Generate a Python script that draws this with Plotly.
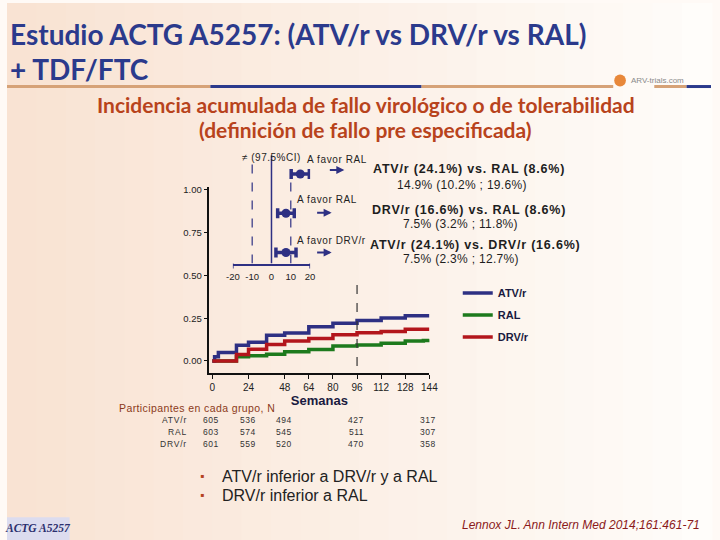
import plotly.graph_objects as go

W, H = 720, 540
def px(x):
    return x / W
def py(y):
    return 1 - y / H

# ---------------- data ----------------
week_ticks = [0, 24, 48, 64, 80, 96, 112, 128, 144]

weeks_atv = [0, 1.5, 4, 16, 24, 36, 48, 64, 80, 96, 112, 128, 144]
inc_atv = [0, 0.025, 0.05, 0.092, 0.11, 0.15, 0.163, 0.20, 0.22, 0.237, 0.252, 0.265, 0.265]

weeks_drv = [0, 16, 24, 36, 48, 64, 80, 96, 112, 128, 144]
inc_drv = [0, 0.038, 0.069, 0.096, 0.117, 0.131, 0.154, 0.165, 0.173, 0.186, 0.186]

weeks_ral = [0, 16, 24, 36, 48, 64, 80, 96, 112, 128, 140, 144]
inc_ral = [0, 0.025, 0.031, 0.040, 0.054, 0.067, 0.087, 0.094, 0.104, 0.117, 0.120, 0.127]

y_ticks = [0, 0.25, 0.50, 0.75, 1.00]
y_ticktext = ["0.00", "0.25", "0.50", "0.75", "1.00"]

# forest plot (difference, 97.5% CI)
comparisons = ["ATV/r vs RAL", "DRV/r vs RAL", "ATV/r vs DRV/r"]
comp_rows = [3, 2, 1]
diff = [14.9, 7.5, 7.5]
ci_low = [10.2, 3.2, 2.3]
ci_high = [19.6, 11.8, 12.7]
forest_ticks = [-20, -10, 0, 10, 20]
forest_ticktext = ["-20", "-10", "0", "10", "20"]
favor_text = ["A favor RAL", "A favor RAL", "A favor DRV/r"]
comp_title = ["ATV/r (24.1%) vs. RAL (8.6%)", "DRV/r (16.6%) vs. RAL (8.6%)",
              "ATV/r (24.1%) vs. DRV/r (16.6%)"]
comp_value = ["14.9% (10.2% ; 19.6%)", "7.5% (3.2% ; 11.8%)", "7.5% (2.3% ; 12.7%)"]

# participants at risk
risk_weeks = [0, 24, 48, 96, 144]
risk_groups = ["ATV/r", "RAL", "DRV/r"]
risk_atv = [605, 536, 494, 427, 317]
risk_ral = [603, 574, 545, 511, 307]
risk_drv = [601, 559, 520, 470, 358]

NAVY = "#2e3083"
RED = "#b3161c"
GREEN = "#1d7a1d"
TXT = "#1e1e1e"
FONT = "Liberation Sans"

def spaced(s, ls):
    return f'<span style="letter-spacing:{ls}px">{s}</span>'

fig = go.Figure()

# ---------------- KM curves ----------------
fig.add_trace(go.Scatter(x=weeks_ral, y=inc_ral, mode="lines", name="RAL",
                         line=dict(color=GREEN, width=3.5, shape="hv"),
                         legendrank=2, legendgroup="b"))
fig.add_trace(go.Scatter(x=weeks_atv, y=inc_atv, mode="lines", name="ATV/r",
                         line=dict(color=NAVY, width=3.5, shape="hv"),
                         legendrank=1, legendgroup="a"))
fig.add_trace(go.Scatter(x=weeks_drv, y=inc_drv, mode="lines", name="DRV/r",
                         line=dict(color=RED, width=3.5, shape="hv"),
                         legendrank=3, legendgroup="c"))

# ---------------- forest plot ----------------
fig.add_trace(go.Scatter(
    x=diff, y=comp_rows, xaxis="x2", yaxis="y2", mode="markers",
    marker=dict(color=NAVY, size=9, symbol="circle"),
    error_x=dict(type="data", symmetric=False,
                 array=[h - d for h, d in zip(ci_high, diff)],
                 arrayminus=[d - l for d, l in zip(diff, ci_low)],
                 color=NAVY, thickness=3.5, width=5),
    showlegend=False, text=comparisons, hoverinfo="text"))

shapes = []
# background gradient
n = 24
for i in range(n):
    t = i / (n - 1)
    r = int(249 + (255 - 249) * t)
    g = int(227 + (253 - 227) * t)
    b = int(211 + (250 - 211) * t)
    shapes.append(dict(type="rect", xref="paper", yref="paper",
                       x0=i / n, x1=(i + 1) / n + 0.002, y0=0, y1=1,
                       fillcolor=f"rgb({r},{g},{b})", line_width=0, layer="below"))
# header rule
for x0, x1, c in [(0, 208, "#d6a277"), (208, 424, "#2b3a8c"), (424, 620, "#d6a277"),
                  (662, 695, "#d6a277"), (695, 720, "#2b3a8c")]:
    shapes.append(dict(type="line", xref="paper", yref="paper",
                       x0=px(x0), x1=px(x1), y0=py(84), y1=py(84),
                       line=dict(color=c, width=3), layer="below"))
# logo swirl
shapes.append(dict(type="circle", xref="paper", yref="paper",
                   x0=px(621), x1=px(633), y0=py(84), y1=py(72),
                   fillcolor="#e8883a", line_width=0))
# footer box
shapes.append(dict(type="rect", xref="paper", yref="paper",
                   x0=0, x1=px(64), y0=0, y1=py(517),
                   fillcolor="#dcdcef", line_width=0))
# week-96 dashed reference
shapes.append(dict(type="line", xref="x", yref="y", x0=96, x1=96, y0=-0.03, y1=0.448,
                   line=dict(color="#333333", width=1.2, dash="dash")))
# forest reference lines
shapes.append(dict(type="line", xref="x2", yref="y2", x0=0, x1=0, y0=0.72, y1=3.48,
                   line=dict(color=NAVY, width=1.5)))
shapes.append(dict(type="line", xref="x2", yref="y2", x0=-10, x1=-10, y0=0.72, y1=3.48,
                   line=dict(color=NAVY, width=1.2, dash="dash")))
shapes.append(dict(type="line", xref="x2", yref="y2", x0=10, x1=10, y0=0.72, y1=2.95,
                   line=dict(color=NAVY, width=1.2, dash="dash")))
for xv in (forest_ticks[0], forest_ticks[-1]):
    shapes.append(dict(type="line", xref="x2", yref="paper", x0=xv, x1=xv,
                       y0=py(262), y1=py(267), line=dict(color=NAVY, width=1.5)))

ann = []
def text(x, y, s, size=11, color=TXT, xanchor="left", bold=False, italic=False,
         family=FONT, xref="paper", xshift=0):
    ann.append(dict(x=x if xref != "paper" else px(x), y=py(y), xref=xref, yref="paper",
                    text=s, showarrow=False, xanchor=xanchor, yanchor="middle",
                    xshift=xshift,
                    font=dict(size=size, color=color, family=family,
                              weight="bold" if bold else "normal",
                              style="italic" if italic else "normal")))

# titles
text(1, 31, "Estudio ACTG A5257: (ATV/r vs DRV/r vs RAL)", size=28, color="#2b3a8c",
     family="Lato", bold=True)
text(1, 66, "+ TDF/FTC", size=28, color="#2b3a8c", family="Lato", bold=True)
text(367, 102, "Incidencia acumulada de fallo virológico o de tolerabilidad", size=21,
     color="#b8431c", family="Lato", bold=True, xanchor="center")
text(367, 127, "(definición de fallo pre especificada)", size=21,
     color="#b8431c", family="Lato", bold=True, xanchor="center")
text(636, 78, "ARV-trials.com", size=8, color="#8a8a8a", family=FONT)

# forest labels
text(271, 155, spaced("≠ (97.5%CI)", 0.5), size=10, xanchor="center")
text(305, 157, spaced(favor_text[0], 0.6), size=10)
text(295, 198, spaced(favor_text[1], 0.6), size=10)
text(295, 239, spaced(favor_text[2], 0.6), size=10)
for xe, ye in [(345, 168), (332, 211), (332, 251)]:
    ann.append(dict(x=px(xe), y=py(ye), xref="paper", yref="paper", ax=-16, ay=0,
                    axref="pixel", ayref="pixel", text="", showarrow=True,
                    arrowhead=2, arrowsize=0.8, arrowwidth=2, arrowcolor=NAVY))
for (xt, yt, xv, yv), t, v in zip([(372, 167, 465, 183), (371, 208, 464, 222),
                                   (369, 243, 464, 257)], comp_title, comp_value):
    text(xt, yt, spaced(t, 0.8), size=12.5, bold=True)
    text(xv, yv, spaced(v, 0.3), size=12, xanchor="center")

# participants table
text(113, 407, spaced("Participantes en cada grupo, N", 0.4), size=10.5, color="#8b3a1a")
for i, (g, vals) in enumerate(zip(risk_groups, [risk_atv, risk_ral, risk_drv])):
    yrow = 419 + 12 * i
    text(186, yrow, spaced(g, 0.8), size=8.5, color="#333333", xanchor="right")
    for wk, v in zip(risk_weeks, vals):
        text(wk, yrow, spaced(str(v), 0.5), size=8.5, color="#333333", xanchor="center",
             xref="x", xshift=-1)

# bullets
for yb, s in [(476, "ATV/r inferior a DRV/r y a RAL"), (495, "DRV/r inferior a RAL")]:
    text(199, yb, "▪", size=12, color="#b5441f", xanchor="center")
    text(218, yb, s, size=16, color="#222222")

# footer
text(32, 528, "ACTG A5257", size=11.5, color="#2b2f6e", family="Liberation Serif",
     bold=True, italic=True, xanchor="center")
text(711, 525, "Lennox JL. Ann Intern Med 2014;161:461-71", size=12, color="#8b1a1a",
     italic=True, xanchor="right")

fig.update_layout(
    width=W, height=H, margin=dict(l=0, r=0, t=0, b=0),
    paper_bgcolor="#fffaf6", plot_bgcolor="rgba(0,0,0,0)",
    font=dict(family=FONT, color=TXT),
    showlegend=True,
    legend=dict(x=px(461), y=py(277), xanchor="left", yanchor="top",
                bgcolor="rgba(0,0,0,0)", tracegroupgap=3,
                font=dict(size=11, family=FONT, color="#1a1a40", weight="bold"),
                itemwidth=30),
    xaxis=dict(domain=[px(207), px(432)], range=[-1.95, 144], anchor="y",
               tickvals=week_ticks, ticks="outside", ticklen=4, tickwidth=1.2,
               tickcolor="#111", showline=True, linecolor="#111", linewidth=1.5,
               showgrid=False, zeroline=False, tickangle=0,
               tickfont=dict(size=10, color="#222"),
               title=dict(text="<b>Semanas</b>", font=dict(size=13, color="#1a1a40"),
                          standoff=0)),
    yaxis=dict(domain=[py(372), py(185)], range=[-0.0698, 1.0174], anchor="x",
               tickvals=y_ticks, ticktext=y_ticktext, ticks="outside", ticklen=4,
               tickwidth=1.2, tickcolor="#111", showline=True, linecolor="#111",
               linewidth=1.5, showgrid=False, zeroline=False,
               tickfont=dict(size=9.5, color="#222")),
    xaxis2=dict(domain=[px(231), px(310)], range=[-20, 20], anchor="y2",
                tickvals=forest_ticks, ticktext=forest_ticktext, ticks="",
                showline=True, linecolor=NAVY,
                linewidth=1.5, showgrid=False, zeroline=False, ticklabelstandoff=3,
                tickangle=0, tickfont=dict(size=9.5, color="#222")),
    yaxis2=dict(domain=[py(262), py(153)], range=[0.72, 3.48], anchor="x2",
                visible=False, showgrid=False, zeroline=False),
    shapes=shapes, annotations=ann,
)

fig.write_html("out.html", config={"displayModeBar": False},
               post_script="document.body.style.margin='0';document.body.style.overflow='hidden';")
